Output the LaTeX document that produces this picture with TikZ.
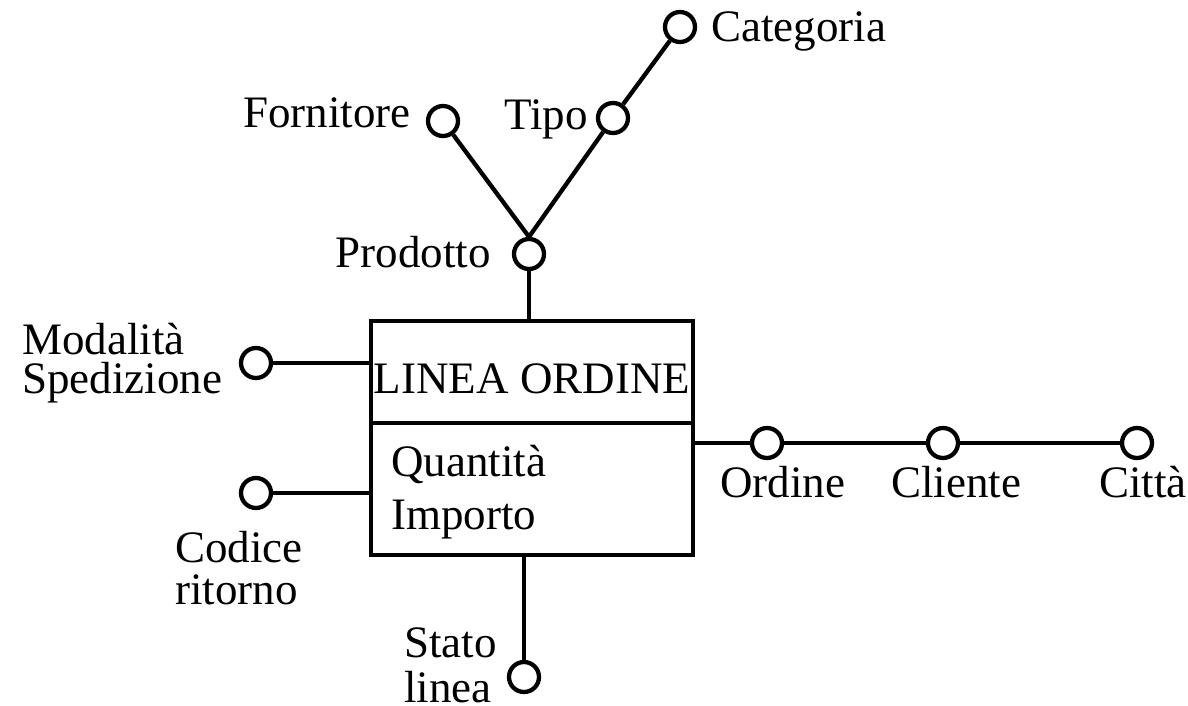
\documentclass[tikz,border=0pt]{standalone}
\usepackage{fontspec}
\setmainfont{Liberation Serif}
\begin{document}
\begin{tikzpicture}[x=1pt,y=-1pt,line width=4.3pt,
  attr/.style={circle,draw,minimum size=30pt,inner sep=0pt},
  lbl/.style={inner sep=0pt,font=\fontsize{45}{40}\selectfont},
  factbox/.style={draw,rectangle,minimum width=322pt,minimum height=234pt,inner sep=0pt}]
\useasboundingbox (0,0) rectangle (1188,706);
% fact box
\node[factbox] (fact) at (532,438) {};
\draw (fact.west |- 0,423) -- (fact.east |- 0,423);
\node[lbl,anchor=base] (title) at (532,393) {LINEA ORDINE};
\node[lbl,anchor=base west,align=left,font=\fontsize{45}{53}\selectfont] (meas) at (389,529) {Quantità\\Importo};
% attribute circles
\node[attr] (prod) at (529,254) {};
\node[attr] (forn) at (443,121) {};
\node[attr] (tipo) at (613,118) {};
\node[attr] (cat) at (680,27) {};
\node[attr] (mod) at (256,363) {};
\node[attr] (cod) at (256,493) {};
\node[attr] (stato) at (524,677) {};
\node[attr] (ord) at (767,443) {};
\node[attr] (cli) at (943,443) {};
\node[attr] (citta) at (1137,443) {};
% labels
\node[lbl,anchor=base east] (lforn) at (413,128) {Fornitore};
\node[lbl,anchor=base west] (ltipo) at (502,129) {Tipo};
\node[lbl,anchor=base west] (lcat) at (709,42) {Categoria};
\node[lbl,anchor=base east] (lprod) at (493,267) {Prodotto};
\node[lbl,anchor=base west,align=left,font=\fontsize{45}{39}\selectfont] (lmod) at (20,393) {Modalità\\Spedizione};
\node[lbl,anchor=base west,align=left,font=\fontsize{45}{42}\selectfont] (lcod) at (173,604) {Codice\\ritorno};
\node[lbl,anchor=base west,align=left,font=\fontsize{45}{45}\selectfont] (lstato) at (402,702) {Stato\\linea};
\node[lbl,anchor=base west] (lord) at (718,497) {Ordine};
\node[lbl,anchor=base west] (lcli) at (889,497) {Cliente};
\node[lbl,anchor=base west] (lcitta) at (1097,497) {Città};
% connectors
\draw (prod) -- (prod |- fact.north);
\draw (forn) -- (prod.north);
\draw (tipo) -- (prod.north);
\draw (tipo) -- (cat);
\draw (mod) -- (mod -| fact.west);
\draw (cod) -- (cod -| fact.west);
\draw (stato) -- (stato |- fact.south);
\draw (ord) -- (ord -| fact.east);
\draw (ord) -- (cli);
\draw (cli) -- (citta);
\end{tikzpicture}
\end{document}
